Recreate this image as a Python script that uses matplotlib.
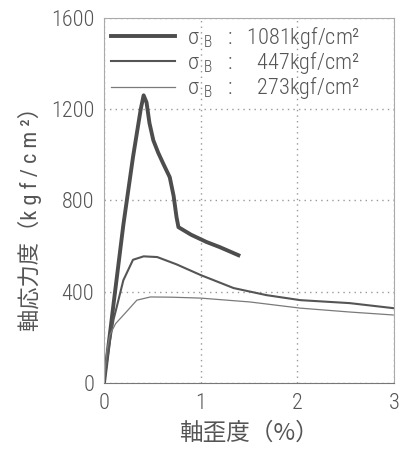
import matplotlib
matplotlib.use('Agg')
from matplotlib import pyplot as plt

latin = ['Roboto Condensed', 'Roboto', 'Noto Sans CJK JP', 'DejaVu Sans']
cjk = ['Noto Sans CJK JP', 'DejaVu Sans']
plt.rcParams['font.family'] = latin
plt.rcParams['font.weight'] = 'light'

# 軸歪度 (%) / 軸応力度 (kgf/cm2)
strain_1081 = [0.0, 0.05, 0.10, 0.20, 0.30, 0.34, 0.38, 0.41, 0.44, 0.47, 0.51, 0.56, 0.61, 0.68, 0.72, 0.75, 0.77, 0.90, 1.06, 1.20, 1.39]
stress_1081 = [0, 175, 350, 692, 990, 1095, 1200, 1261, 1230, 1140, 1064, 1010, 964, 902, 820, 727, 683, 650, 618, 595, 560]

strain_447 = [0.0, 0.03, 0.06, 0.10, 0.13, 0.20, 0.30, 0.41, 0.55, 0.75, 1.0, 1.34, 1.68, 2.03, 2.54, 2.99]
stress_447 = [0, 90, 180, 280, 330, 450, 540, 555, 552, 520, 473, 416, 385, 363, 350, 328]

strain_273 = [0.0, 0.03, 0.06, 0.12, 0.23, 0.34, 0.48, 0.7, 1.0, 1.51, 2.03, 2.54, 2.99]
stress_273 = [0, 140, 210, 260, 311, 363, 377, 376, 372, 355, 328, 311, 298]

labels = ['σ $_\\mathregular{B}$   :   1081kgf/cm²',
          'σ $_\\mathregular{B}$   :     447kgf/cm²',
          'σ $_\\mathregular{B}$   :     273kgf/cm²']

fig = plt.figure(figsize=(4.03, 4.5), dpi=100)
ax = fig.add_axes([0.258, 0.149, 0.72, 0.811])

ax.plot(strain_1081, stress_1081, color='#4d4d4d', lw=2.8, label=labels[0])
ax.plot(strain_447, stress_447, color='#555555', lw=1.5, label=labels[1])
ax.plot(strain_273, stress_273, color='#7a7a7a', lw=0.9, label=labels[2])

ax.set_xlim(0, 3)
ax.set_ylim(0, 1600)
ax.set_xticks([0, 1, 2, 3])
ax.set_yticks([0, 400, 800, 1200, 1600])
ax.tick_params(length=0, labelsize=16, labelcolor='#555555', pad=7)
ax.grid(True, linestyle=(0, (1, 3)), color='#999999', lw=1.0)
for s in ax.spines.values():
    s.set_color('#aaaaaa')
    s.set_linewidth(0.8)
ax.spines['bottom'].set_color('#777777')

ax.set_xlabel('軸歪度（%）', family=cjk, fontsize=17, color='#555555', labelpad=6)
ax.set_ylabel('軸応力度（k g f / c m ²）', family=['Roboto Condensed', 'Noto Sans CJK JP'],
              fontsize=16, color='#555555')
ax.yaxis.set_label_coords(-0.214, 0.465)

leg = ax.legend(loc='upper left', bbox_to_anchor=(0.0, 1.0), frameon=False, fontsize=16,
                handlelength=2.9, handletextpad=0.55, labelspacing=-0.03,
                borderaxespad=0.05, borderpad=0.25)
for t in leg.get_texts():
    t.set_color('#555555')

plt.savefig('out.png', dpi=100)
plt.close()
